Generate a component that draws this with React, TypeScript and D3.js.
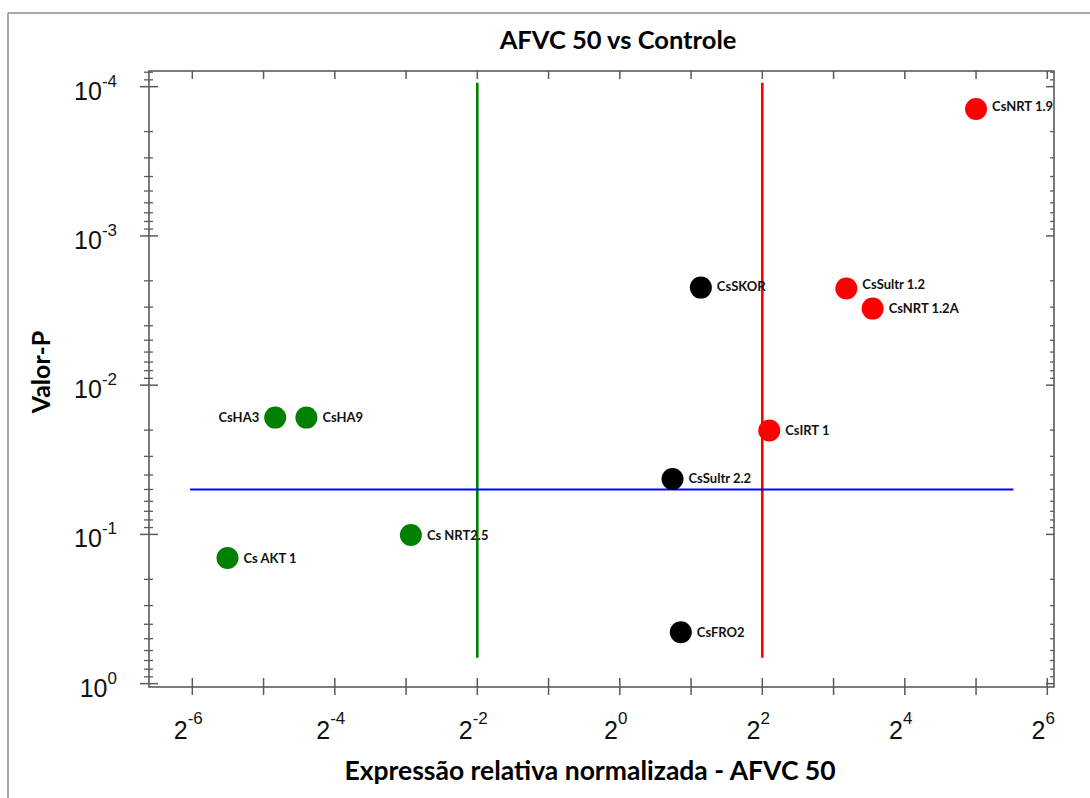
import React from "react";
import * as d3 from "d3";

// genes
const genes = [
  "CsNRT 1.9",
  "CsSultr 1.2",
  "CsNRT 1.2A",
  "CsSKOR",
  "CsIRT 1",
  "CsSultr 2.2",
  "CsFRO2",
  "CsHA3",
  "CsHA9",
  "Cs AKT 1",
  "Cs NRT2.5",
];
const foldChange = [32.0, 9.06, 11.7, 2.2, 4.28, 1.67, 1.81, 0.035, 0.0474, 0.022, 0.131];
const pValues = [1.41e-4, 2.25e-3, 3.07e-3, 2.22e-3, 0.0201, 0.0425, 0.453, 0.0165, 0.0165, 0.144, 0.101];
const groups = ["up", "up", "up", "ns", "up", "ns", "ns", "down", "down", "down", "down"];

const foldCutoffs = [0.25, 4];
const pCutoff = 0.05;
const cutoffLineP = [9.4e-5, 0.67];
const cutoffLineFold = [0.0153, 46];

const xTickPowers = [-6, -5, -4, -3, -2, -1, 0, 1, 2, 3, 4, 5, 6];
const xLabelPowers = [-6, -4, -2, 0, 2, 4, 6];
const yDecades = [-4, -3, -2, -1, 0];

const groupColor: Record<string, string> = { up: "#ff0000", down: "#008000", ns: "#000000" };
const labelLeft = ["CsHA3"];
const labelShift: Record<string, number> = { "CsSultr 1.2": -4, "CsNRT 1.9": -2, "CsSKOR": -1 };

const W = 1090;
const H = 798;
const left = 149, right = 1054, top = 71, bottom = 687;
const axisColor = "#5a5a5a";
const labelFont = "Lato, 'Open Sans', sans-serif";
const tickFont = "'Liberation Sans', Arial, sans-serif";

export default function App() {
  const x = d3.scaleLog().base(2).domain([Math.pow(2, -6.608), Math.pow(2, 6.094)]).range([left, right]);
  const y = d3.scaleLog().domain([Math.pow(10, -4.105), Math.pow(10, 0.0225)]).range([top, bottom]);

  const [yMin, yMax] = y.domain();
  const yMinor: number[] = [];
  for (let k = -5; k <= 0; k++) {
    for (let m = 2; m <= 9; m++) {
      const v = m * Math.pow(10, k);
      if (v >= yMin && v <= yMax) yMinor.push(v);
    }
  }

  const points = genes.map((g, i) => ({ g, fc: foldChange[i], p: pValues[i], grp: groups[i] }));

  return (
    <svg width={W} height={H} style={{ position: "absolute", left: 0, top: 0, background: "#fff" }}>
      {/* outer frame */}
      <line x1={8} y1={13} x2={W} y2={13} stroke="#8a8a8a" strokeWidth={1.5} />
      <line x1={8} y1={13} x2={8} y2={H} stroke="#8a8a8a" strokeWidth={1.5} />

      {/* title */}
      <text x={618} y={49} textAnchor="middle" fontFamily={labelFont} fontWeight="bold" fontSize={25.5}>
        AFVC 50 vs Controle
      </text>

      {/* cutoff lines */}
      {foldCutoffs.map((f, i) => (
        <line
          key={f}
          x1={x(f)}
          x2={x(f)}
          y1={y(cutoffLineP[0])}
          y2={y(cutoffLineP[1])}
          stroke={i === 0 ? "#008000" : "#ff0000"}
          strokeWidth={2.6}
        />
      ))}
      <line
        x1={x(cutoffLineFold[0])}
        x2={x(cutoffLineFold[1])}
        y1={y(pCutoff)}
        y2={y(pCutoff)}
        stroke="#0000ff"
        strokeWidth={2}
      />

      {/* axes box */}
      <rect x={left} y={top} width={right - left} height={bottom - top} fill="none" stroke={axisColor} strokeWidth={1.6} />

      {/* x ticks bottom & top */}
      {xTickPowers.map((k) => {
        const px = x(Math.pow(2, k));
        return (
          <g key={"xt" + k} stroke={axisColor} strokeWidth={1.5}>
            <line x1={px} x2={px} y1={bottom - 9} y2={bottom + 8} />
            <line x1={px} x2={px} y1={top} y2={top + 8} />
          </g>
        );
      })}
      {xLabelPowers.map((k) => (
        <text
          key={"xl" + k}
          x={x(Math.pow(2, k)) - 4}
          y={739}
          textAnchor="middle"
          fontFamily={tickFont}
          fontSize={25}
          fill="#111"
        >
          2
          <tspan fontSize={17} dy={-15}>
            {k}
          </tspan>
        </text>
      ))}

      {/* y ticks left & right */}
      {yDecades.map((k) => {
        const py = y(Math.pow(10, k));
        return (
          <g key={"yt" + k}>
            <line x1={left - 9} x2={left + 9} y1={py} y2={py} stroke={axisColor} strokeWidth={1.5} />
            <line x1={right - 8} x2={right} y1={py} y2={py} stroke={axisColor} strokeWidth={1.5} />
            <text x={117} y={py + 13} textAnchor="end" fontFamily={tickFont} fontSize={25} fill="#111">
              10
              <tspan fontSize={17} dy={-13}>
                {k === 0 ? "0" : "-" + Math.abs(k)}
              </tspan>
            </text>
          </g>
        );
      })}
      {yMinor.map((v, i) => {
        const py = y(v);
        return (
          <g key={"ym" + i} stroke={axisColor} strokeWidth={1.3}>
            <line x1={left - 5} x2={left + 4} y1={py} y2={py} />
            <line x1={right - 4} x2={right} y1={py} y2={py} />
          </g>
        );
      })}

      {/* axis titles */}
      <text x={590} y={780} textAnchor="middle" fontFamily={labelFont} fontWeight="bold" fontSize={26.5}>
        Expressão relativa normalizada - AFVC 50
      </text>
      <text
        transform="translate(50,372) rotate(-90)"
        textAnchor="middle"
        fontFamily={labelFont}
        fontWeight="bold"
        fontSize={25}
      >
        Valor-P
      </text>

      {/* points */}
      {points.map((d) => {
        const cx = x(d.fc);
        const cy = y(d.p);
        const onLeft = labelLeft.includes(d.g);
        return (
          <g key={d.g}>
            <circle cx={cx} cy={cy} r={11} fill={groupColor[d.grp]} />
            <text
              x={onLeft ? cx - 16 : cx + 16}
              y={cy + (labelShift[d.g] || 0)}
              dy="0.35em"
              textAnchor={onLeft ? "end" : "start"}
              fontFamily={labelFont}
              fontWeight="bold"
              fontSize={13}
              fill="#111"
            >
              {d.g}
            </text>
          </g>
        );
      })}
    </svg>
  );
}
